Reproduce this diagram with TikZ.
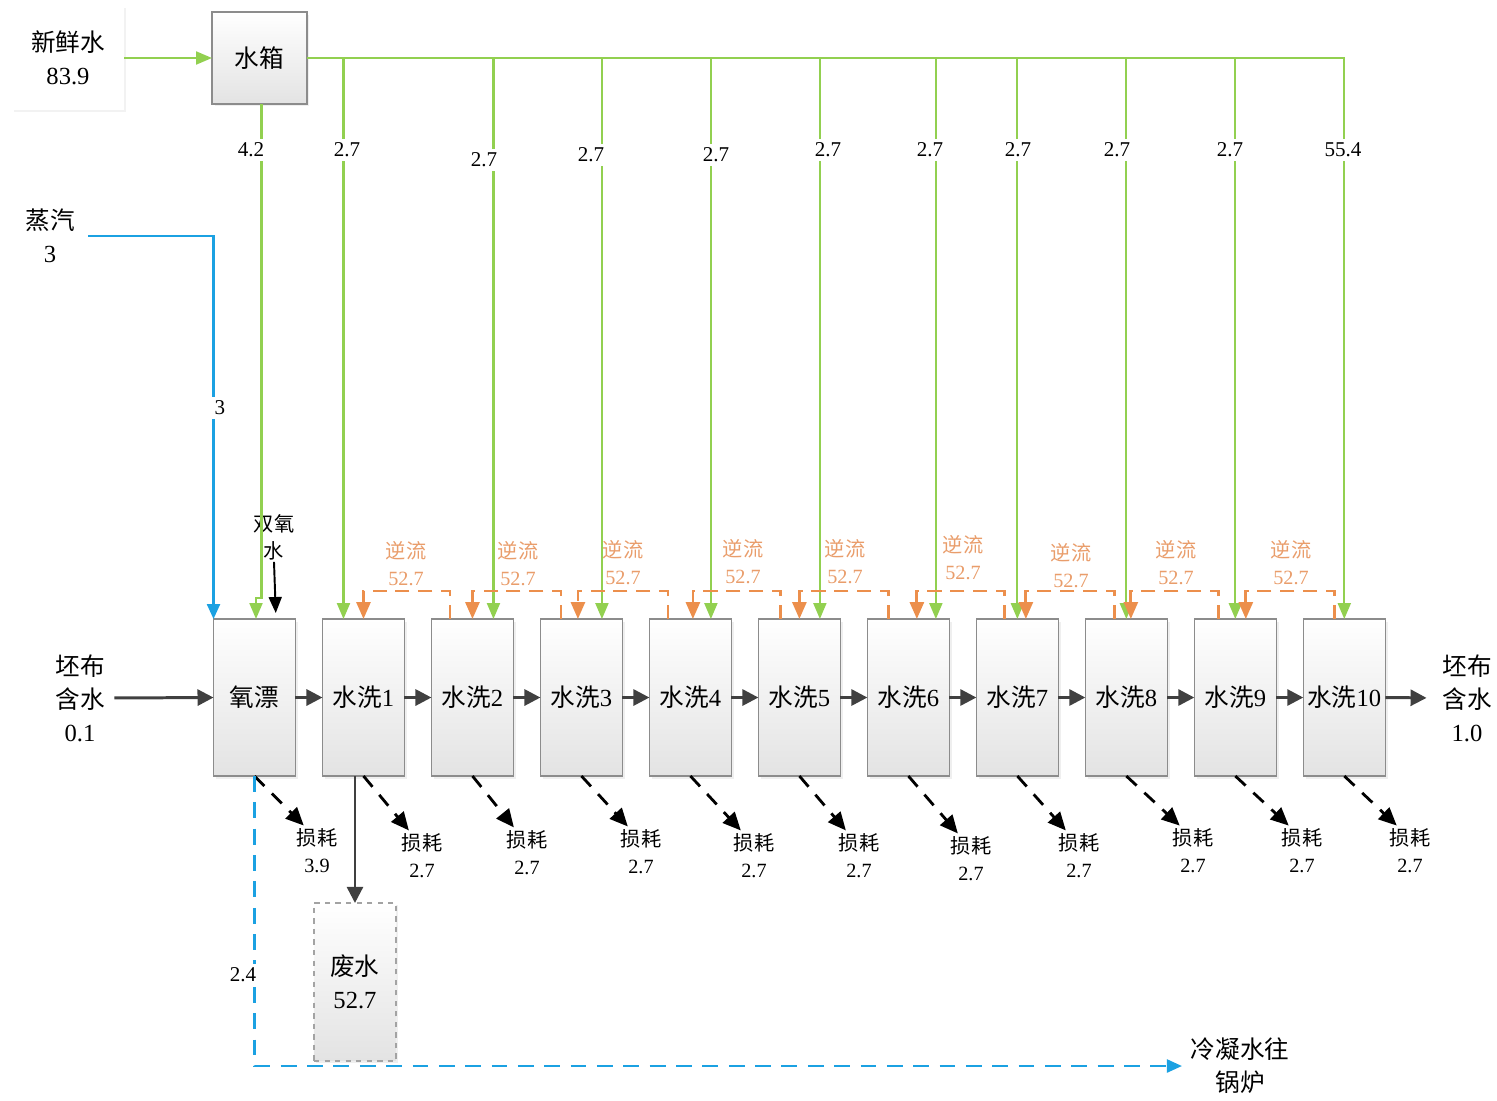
\documentclass[tikz,border=0pt]{standalone}
\usepackage{fontspec}
\setmainfont{Liberation Serif}
\newfontfamily\cjk{Noto Sans CJK SC}
\usepackage{xcolor}
\usepackage{tikz}
\usetikzlibrary{arrows.meta,positioning,calc,shadows}
\definecolor{WashGreen}{HTML}{92D050}
\definecolor{WashBlue}{HTML}{1BA1E2}
\definecolor{WashOrange}{HTML}{EC8F4C}
\definecolor{WashPeach}{HTML}{E99D6B}
\definecolor{WashDark}{HTML}{404040}
\definecolor{WashGray}{HTML}{8C8C8C}
\tikzset{
  stagebox/.style={draw=WashGray,line width=0.7pt,top color=white,bottom color=black!11,minimum width=1.64cm,minimum height=3.14cm,inner sep=0pt,outer sep=0pt,align=center,font=\fontsize{14}{19}\selectfont,drop shadow={shadow xshift=0.5mm,shadow yshift=-0.5mm,fill=black!12}},
  tankbox/.style={stagebox,minimum width=1.9cm,minimum height=1.84cm},
  freshbox/.style={fill=white,minimum width=2.26cm,minimum height=2.1cm,align=center,inner sep=0pt,outer sep=0pt,font=\fontsize{14}{19}\selectfont,drop shadow={shadow xshift=0.4mm,shadow yshift=-0.4mm,fill=black!10}},
  wastebox/.style={stagebox,draw=WashGray!80,dashed,minimum height=3.16cm},
  sidelabel/.style={align=center,inner sep=2pt,font=\fontsize{14}{18.8}\selectfont},
  losslabel/.style={align=center,inner sep=1pt,font=\fontsize{11.5}{15.4}\selectfont},
  backlabel/.style={losslabel,text=WashPeach},
  numlabel/.style={fill=white,inner sep=2pt,font=\fontsize{12}{14}\selectfont},
  flowarrow/.style={-{Triangle[length=3.2mm,width=3.2mm]},line width=1.7pt,draw=WashDark,fill=WashDark},
  greenarrow/.style={-{Triangle[length=3.2mm,width=2.6mm]},line width=1.2pt,draw=WashGreen},
  backflow/.style={-{Triangle[length=3.4mm,width=2.8mm]},line width=1.6pt,draw=WashOrange,dash pattern=on 8pt off 5pt},
  lossarrow/.style={-{Triangle[length=3.6mm,width=3.2mm]},line width=1.6pt,draw=black,dash pattern=on 8pt off 6pt,shorten >=1pt},
  steamarrow/.style={-{Triangle[length=3mm,width=2.6mm]},line width=1.3pt,draw=WashBlue},
  steamdash/.style={steamarrow,dash pattern=on 9pt off 6pt}
}
\begin{document}
\begin{tikzpicture}[x=0.02cm,y=-0.02cm,node distance=0.54cm]
\useasboundingbox (0,0) rectangle (1497,1100);
\node[freshbox] (fresh) at (68,58) {{\cjk 新鲜水}\\83.9};
\node[tankbox] (tank) at (259.5,58) {\cjk 水箱};
\node[sidelabel] (steam) at (50,236) {{\cjk 蒸汽}\\3};
\node[losslabel,font=\cjk\fontsize{11.5}{15.4}\selectfont] (h2o2) at (274,537) {双氧\\水};

\node[stagebox] (bleach) at (254.5,697.5) {\cjk 氧漂};
\node[stagebox,right=of bleach] (w1) {{\cjk 水洗}1};
\node[stagebox,right=of w1] (w2) {{\cjk 水洗}2};
\node[stagebox,right=of w2] (w3) {{\cjk 水洗}3};
\node[stagebox,right=of w3] (w4) {{\cjk 水洗}4};
\node[stagebox,right=of w4] (w5) {{\cjk 水洗}5};
\node[stagebox,right=of w5] (w6) {{\cjk 水洗}6};
\node[stagebox,right=of w6] (w7) {{\cjk 水洗}7};
\node[stagebox,right=of w7] (w8) {{\cjk 水洗}8};
\node[stagebox,right=of w8] (w9) {{\cjk 水洗}9};
\node[stagebox,right=of w9] (w10) {{\cjk 水洗}10};
\node[sidelabel] (clothin) at (80,698) {{\cjk 坯布}\\{\cjk 含水}\\0.1};
\node[sidelabel] (clothout) at (1467,698) {{\cjk 坯布}\\{\cjk 含水}\\1.0};
\node[wastebox,below=2.54cm of w1,xshift=-0.17cm] (waste) {{\cjk 废水}\\52.7};
\node[sidelabel] (boiler) at (1240,1066) {{\cjk 冷凝水往}\\{\cjk 锅炉}};

\draw[greenarrow] (fresh.east) -- (tank.west);
\draw[greenarrow] (tank.east) -| (w10.north);
\draw[greenarrow] ([xshift=0.04cm]tank.south) -- ([xshift=0.04cm,yshift=0.42cm]tank.south |- bleach.north) -| ([xshift=0.03cm]bleach.north);
\draw[greenarrow] ([xshift=-0.4cm]w1.north |- tank.east) -- ([xshift=-0.4cm]w1.north);
\draw[greenarrow] ([xshift=0.42cm]w2.north |- tank.east) -- ([xshift=0.42cm]w2.north);
\draw[greenarrow] ([xshift=0.41cm]w3.north |- tank.east) -- ([xshift=0.41cm]w3.north);
\draw[greenarrow] ([xshift=0.41cm]w4.north |- tank.east) -- ([xshift=0.41cm]w4.north);
\draw[greenarrow] ([xshift=0.41cm]w5.north |- tank.east) -- ([xshift=0.41cm]w5.north);
\draw[greenarrow] ([xshift=0.55cm]w6.north |- tank.east) -- ([xshift=0.55cm]w6.north);
\draw[greenarrow] (w7.north |- tank.east) -- (w7.north);
\draw[greenarrow] (w8.north |- tank.east) -- (w8.north);
\draw[greenarrow] (w9.north |- tank.east) -- (w9.north);

\node[numlabel] (g0) at (251,150) {4.2};
\node[numlabel] (g1) at (347,150) {2.7};
\node[numlabel] (g2) at (484,160) {2.7};
\node[numlabel] (g3) at (591,155) {2.7};
\node[numlabel] (g4) at (716,155) {2.7};
\node[numlabel] (g5) at (828,150) {2.7};
\node[numlabel] (g6) at (930,150) {2.7};
\node[numlabel] (g7) at (1018,150) {2.7};
\node[numlabel] (g8) at (1117,150) {2.7};
\node[numlabel] (g9) at (1230,150) {2.7};
\node[numlabel] (g10) at (1343,150) {55.4};

\draw[steamarrow,shorten <=2mm] (steam.east) -| (bleach.north west);
\node[numlabel] (s3) at (220,408) {3};
\draw[-{Triangle[length=3.2mm,width=2.6mm]},line width=1.1pt,shorten >=1.2mm] (h2o2.south) -- ([xshift=0.43cm]bleach.north);

\draw[backflow] ([xshift=-0.45cm]w2.north) -- ++(0,-28) -| (w1.north);
\draw[backflow] ([xshift=-0.41cm]w3.north) -- ++(0,-28) -| (w2.north);
\draw[backflow] ([xshift=-0.45cm]w4.north) -- ++(0,-28) -| ([xshift=-0.07cm]w3.north);
\draw[backflow] ([xshift=-0.37cm]w5.north) -- ++(0,-28) -| ([xshift=0.05cm]w4.north);
\draw[backflow] ([xshift=-0.39cm]w6.north) -- ++(0,-28) -| (w5.north);
\draw[backflow] ([xshift=-0.25cm]w7.north) -- ++(0,-28) -| ([xshift=0.17cm]w6.north);
\draw[backflow] ([xshift=-0.23cm]w8.north) -- ++(0,-28) -| ([xshift=0.17cm]w7.north);
\draw[backflow] ([xshift=-0.33cm]w9.north) -- ++(0,-28) -| ([xshift=0.09cm]w8.north);
\draw[backflow] ([xshift=-0.19cm]w10.north) -- ++(0,-28) -| ([xshift=0.21cm]w9.north);

\node[backlabel] (b1) at (406,564) {{\cjk 逆流}\\52.7};
\node[backlabel] (b2) at (518,564) {{\cjk 逆流}\\52.7};
\node[backlabel] (b3) at (623,563) {{\cjk 逆流}\\52.7};
\node[backlabel] (b4) at (743,562) {{\cjk 逆流}\\52.7};
\node[backlabel] (b5) at (845,562) {{\cjk 逆流}\\52.7};
\node[backlabel] (b6) at (963,558) {{\cjk 逆流}\\52.7};
\node[backlabel] (b7) at (1071,566) {{\cjk 逆流}\\52.7};
\node[backlabel] (b8) at (1176,563) {{\cjk 逆流}\\52.7};
\node[backlabel] (b9) at (1291,563) {{\cjk 逆流}\\52.7};

\draw[flowarrow,shorten <=1.2mm] (clothin.east) -- (bleach.west);
\draw[flowarrow] (bleach.east) -- (w1.west);
\draw[flowarrow] (w1.east) -- (w2.west);
\draw[flowarrow] (w2.east) -- (w3.west);
\draw[flowarrow] (w3.east) -- (w4.west);
\draw[flowarrow] (w4.east) -- (w5.west);
\draw[flowarrow] (w5.east) -- (w6.west);
\draw[flowarrow] (w6.east) -- (w7.west);
\draw[flowarrow] (w7.east) -- (w8.west);
\draw[flowarrow] (w8.east) -- (w9.west);
\draw[flowarrow] (w9.east) -- (w10.west);
\draw[flowarrow,shorten >=2.4mm] (w10.east) -- (clothout.west);
\draw[flowarrow,line width=1.4pt] ([xshift=-0.17cm]w1.south) -- (waste.north);

\node[losslabel] (loss0) at (317,851) {{\cjk 损耗}\\3.9};
\node[losslabel] (loss1) at (422,856) {{\cjk 损耗}\\2.7};
\node[losslabel] (loss2) at (527,853) {{\cjk 损耗}\\2.7};
\node[losslabel] (loss3) at (641,852) {{\cjk 损耗}\\2.7};
\node[losslabel] (loss4) at (754,856) {{\cjk 损耗}\\2.7};
\node[losslabel] (loss5) at (859,856) {{\cjk 损耗}\\2.7};
\node[losslabel] (loss6) at (971,859) {{\cjk 损耗}\\2.7};
\node[losslabel] (loss7) at (1079,856) {{\cjk 损耗}\\2.7};
\node[losslabel] (loss8) at (1193,851) {{\cjk 损耗}\\2.7};
\node[losslabel] (loss9) at (1302,851) {{\cjk 损耗}\\2.7};
\node[losslabel] (loss10) at (1410,851) {{\cjk 损耗}\\2.7};
\draw[lossarrow] (bleach.south) -- ([xshift=-0.24cm]loss0.north);
\draw[lossarrow] (w1.south) -- ([xshift=-0.24cm]loss1.north);
\draw[lossarrow] (w2.south) -- ([xshift=-0.24cm]loss2.north);
\draw[lossarrow] (w3.south) -- ([xshift=-0.24cm]loss3.north);
\draw[lossarrow] (w4.south) -- ([xshift=-0.24cm]loss4.north);
\draw[lossarrow] (w5.south) -- ([xshift=-0.24cm]loss5.north);
\draw[lossarrow] (w6.south) -- ([xshift=-0.24cm]loss6.north);
\draw[lossarrow] (w7.south) -- ([xshift=-0.24cm]loss7.north);
\draw[lossarrow] (w8.south) -- ([xshift=-0.24cm]loss8.north);
\draw[lossarrow] (w9.south) -- ([xshift=-0.24cm]loss9.north);
\draw[lossarrow] (w10.south) -- ([xshift=-0.24cm]loss10.north);

\draw[steamdash,shorten >=1mm] (bleach.south) |- (boiler.west);
\node[numlabel] (c24) at (243,975) {2.4};
\end{tikzpicture}
\end{document}
